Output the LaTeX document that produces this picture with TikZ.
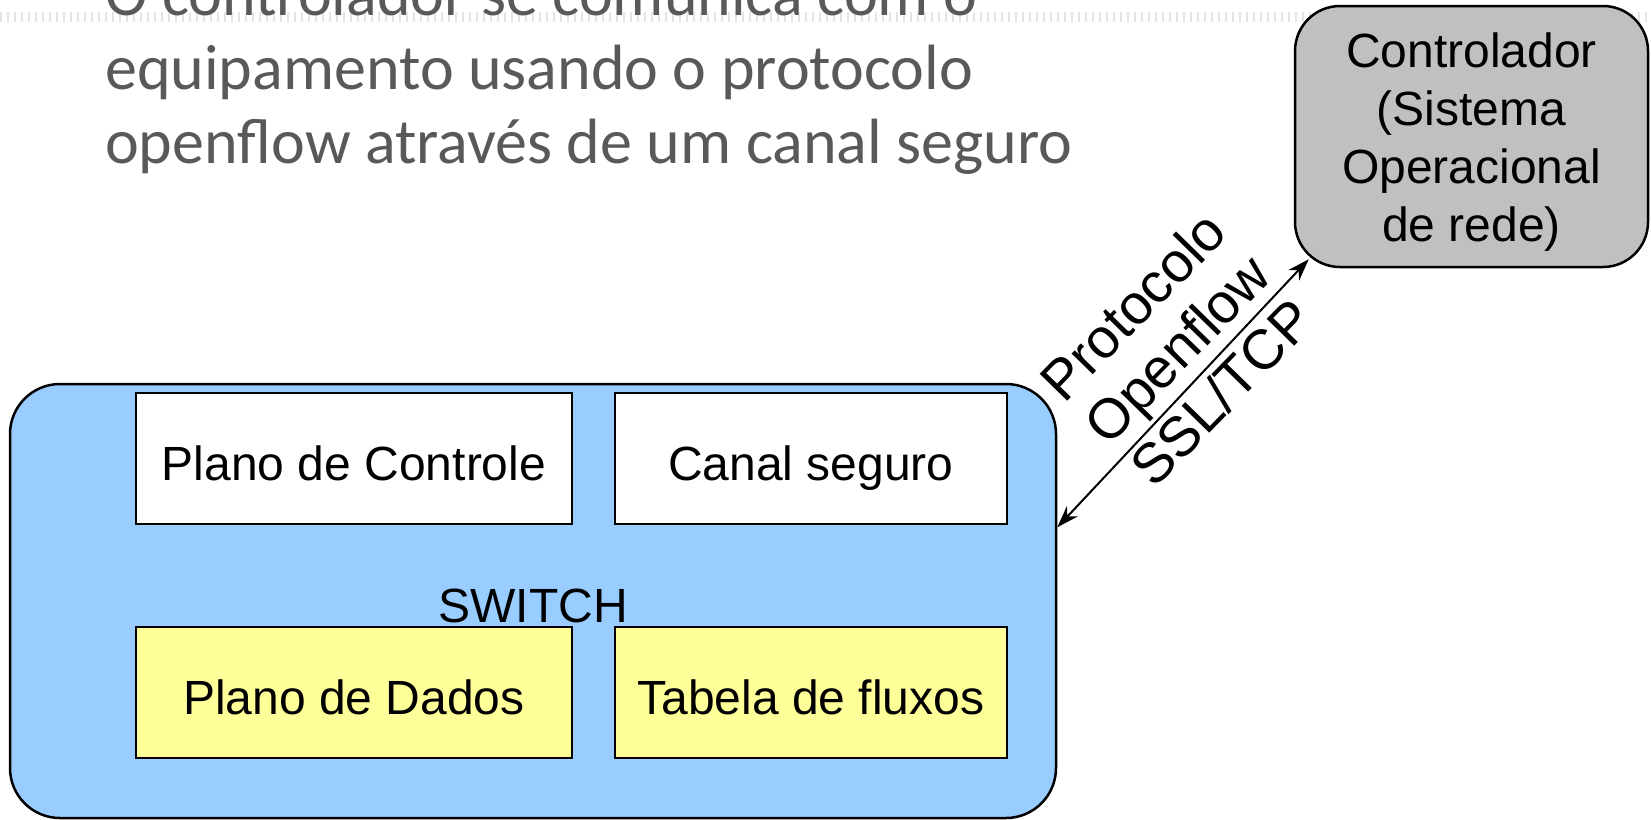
\documentclass[tikz,border=0pt]{standalone}
\usepackage{fontspec}
\setmainfont{Liberation Sans}
\newfontfamily\titlefont{Carlito}
\usetikzlibrary{arrows.meta}
\definecolor{switchBlue}{RGB}{153, 204, 255}
\definecolor{planeYellow}{RGB}{255, 255, 153}
\definecolor{ctrlGray}{RGB}{192, 192, 192}
\definecolor{titleGray}{RGB}{89, 89, 89}

\begin{document}
\begin{tikzpicture}[x=1pt, y=1pt, >={Stealth[length=22pt, width=15pt]},
    every node/.style={font=\fontsize{48}{58}\selectfont},
    planebox/.style={draw, line width=2.5pt, minimum height=131pt, inner sep=0pt,
      text height=43pt, text depth=0pt},
    titleline/.style={anchor=base west, inner sep=0pt, text=titleGray,
      font=\titlefont\fontsize{64}{74}\selectfont}]
  \useasboundingbox (0,-819) rectangle (1651,0);
  \draw[black!10, line width=10pt, dash pattern=on 2pt off 5pt] (0,-17) -- (1651,-17);
  \node[titleline] (title1) at (105,-15) {O controlador se comunica com o};
  \node[titleline] (title2) at (105,-89) {equipamento usando o protocolo};
  \node[titleline] (title3) at (105,-163) {openflow através de um canal seguro};

  % switch
  \node[draw, line width=2.5pt, fill=switchBlue, rounded corners=50pt,
    minimum width=1046pt, minimum height=434pt] (sw) at (533,-601) {};
  \node[planebox, fill=white, minimum width=436pt] (ctl) at (354,-458.5) {Plano de Controle};
  \node[planebox, fill=white, minimum width=392pt] (canal) at (811,-458.5) {Canal seguro};
  \node[planebox, fill=planeYellow, minimum width=436pt] (dados) at (354,-692.5) {Plano de Dados};
  \node[planebox, fill=planeYellow, minimum width=392pt] (tabela) at (811,-692.5) {Tabela de fluxos};
  \node[anchor=base, inner sep=0pt] (swlabel) at (533,-622) {SWITCH};

  % controlador
  \node[draw, line width=2.5pt, fill=ctrlGray, rounded corners=45pt, minimum width=353pt,
    minimum height=261pt, align=center] (ctrl) at (1471.5,-136.5)
    {\rule{0pt}{46pt}Controlador\\(Sistema\\Operacional\\de rede)};

  \draw[line width=2pt, <->] (sw.8.6) -- ([shift={(15,9)}]ctrl.south west);
  \node[rotate=45.7, align=center, font=\fontsize{56}{62}\selectfont] (proto) at (1177,-349)
    {Protocolo\\Openflow\\SSL/TCP};
\end{tikzpicture}
\end{document}
